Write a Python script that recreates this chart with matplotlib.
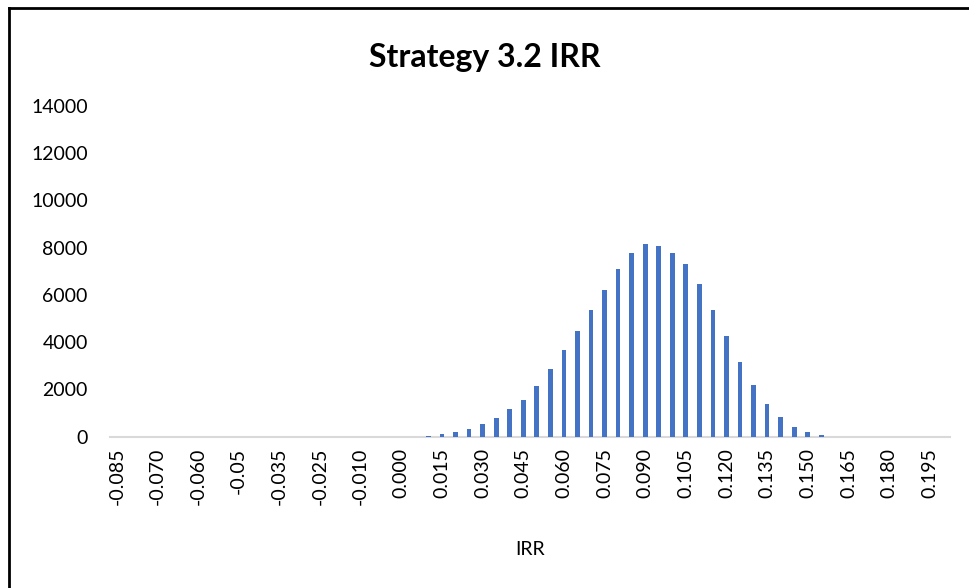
import matplotlib
matplotlib.use("Agg")
import matplotlib.pyplot as plt
from matplotlib.lines import Line2D

plt.rcParams['font.family'] = ['Lato', 'DejaVu Sans']

# IRR bins (label shown on every third bin, as in the source chart)
tick_labels = ['-0.085', '-0.070', '-0.060', '-0.05', '-0.035', '-0.025', '-0.010',
               '0.000', '0.015', '0.030', '0.045', '0.060', '0.075', '0.090',
               '0.105', '0.120', '0.135', '0.150', '0.165', '0.180', '0.195']

# frequency per bin (62 bins)
counts = [0] * 23 + [45, 100, 190, 345, 545, 785, 1185, 1560, 2160, 2845,
                     3690, 4460, 5345, 6230, 7100, 7790, 8145, 8060, 7790, 7315,
                     6450, 5345, 4275, 3145, 2185, 1400, 815, 400, 190, 75] + [0] * 9

W, H = 970, 588
fig = plt.figure(figsize=(W / 100, H / 100), dpi=100)
ax = fig.add_axes([110 / W, 1 - 436.7 / H, 840 / W, (436.7 - 106) / H])

x = list(range(len(counts)))
ax.bar(x, counts, width=0.35, color='#4472C4', zorder=3)

ax.set_xlim(-0.5, len(counts) - 0.5)
ax.set_ylim(0, 14000)
ax.set_yticks(range(0, 14001, 2000))
ax.set_xticks(x[::3][:len(tick_labels)])
ax.set_xticklabels(tick_labels, rotation=90)
ax.tick_params(axis='both', length=0, labelsize=14, colors='black')
ax.tick_params(axis='y', pad=16)
ax.tick_params(axis='x', pad=8)

for s in ['top', 'right', 'left']:
    ax.spines[s].set_visible(False)
ax.spines['bottom'].set_color('#D9D9D9')
ax.spines['bottom'].set_linewidth(1.5)

ax.set_xlabel('IRR', fontsize=14, labelpad=26)
fig.suptitle('Strategy 3.2 IRR', fontsize=23, fontweight='bold', y=1 - 58 / H, va='center')

# chart border
fig.add_artist(Line2D([9 / W, 9 / W], [0, 1 - 8 / H], color='black', lw=2))
fig.add_artist(Line2D([9 / W, 1], [1 - 8 / H, 1 - 8 / H], color='black', lw=2))

fig.savefig('out.png', dpi=100)
